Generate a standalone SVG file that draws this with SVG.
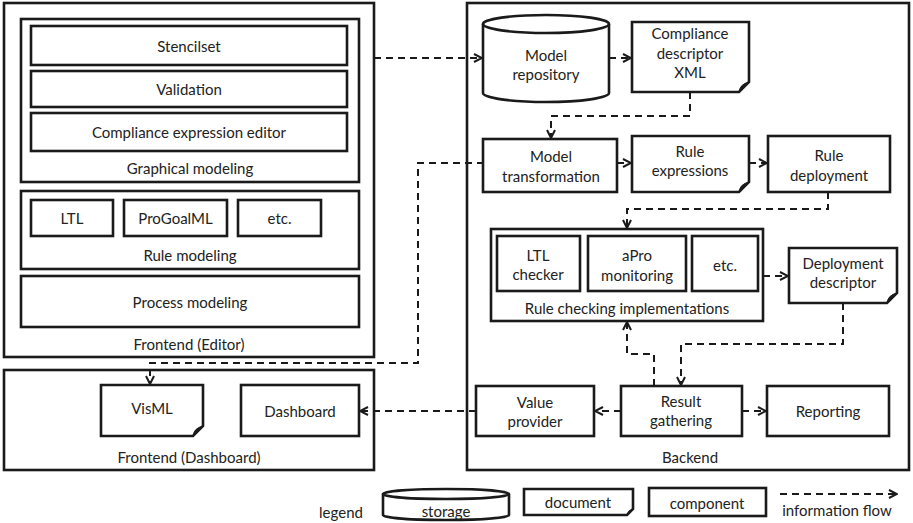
<svg xmlns="http://www.w3.org/2000/svg" width="913" height="523" viewBox="0 0 913 523">
<style>
.box{fill:#fff;stroke:#1a1a1a;stroke-width:2.6}
.frame{fill:none;stroke:#1a1a1a;stroke-width:2.6}
.t{font-family:Lato,"Open Sans","Liberation Sans",sans-serif;font-size:15px;fill:#222;text-anchor:middle;dominant-baseline:central}
.flow{fill:none;stroke:#1a1a1a;stroke-width:2;stroke-dasharray:7 5;marker-end:url(#arr)}
.curl{fill:#1a1a1a;stroke:#1a1a1a;stroke-width:1}
</style>
<defs>
<marker id="arr" viewBox="0 0 10 10" refX="9" refY="5" markerWidth="10" markerHeight="10" markerUnits="userSpaceOnUse" orient="auto">
<path d="M1,1 L9,5 L1,9" fill="none" stroke="#1a1a1a" stroke-width="2" stroke-dasharray="none"/>
</marker>
</defs>
<rect width="913" height="523" fill="#fff"/>

<g id="frontend-editor">
<rect class="frame" x="4" y="3" width="370" height="354"/>
<text class="t" x="189" y="344">Frontend (Editor)</text>
</g>
<g id="graphical-modeling">
<rect class="frame" x="21" y="19" width="338" height="163"/>
<text class="t" x="190" y="168">Graphical modeling</text>
</g>
<g id="stencilset"><rect class="box" x="31" y="26" width="316" height="39"/><text class="t" x="189" y="46">Stencilset</text></g>
<g id="validation"><rect class="box" x="31" y="71" width="316" height="36"/><text class="t" x="189" y="89">Validation</text></g>
<g id="compliance-expression-editor"><rect class="box" x="31" y="113" width="316" height="38"/><text class="t" x="189" y="132">Compliance expression editor</text></g>
<g id="rule-modeling">
<rect class="frame" x="21" y="191" width="338" height="78"/>
<text class="t" x="190" y="255">Rule modeling</text>
</g>
<g id="ltl"><rect class="box" x="31" y="200" width="82" height="36"/><text class="t" x="72" y="218">LTL</text></g>
<g id="progoalml"><rect class="box" x="124" y="200" width="103" height="36"/><text class="t" x="175.5" y="218">ProGoalML</text></g>
<g id="etc-rule"><rect class="box" x="238" y="200" width="83" height="36"/><text class="t" x="279.5" y="218">etc.</text></g>
<g id="process-modeling"><rect class="box" x="21" y="276" width="338" height="51"/><text class="t" x="190" y="302">Process modeling</text></g>

<g id="frontend-dashboard">
<rect class="frame" x="4" y="370" width="370" height="100"/>
<text class="t" x="189" y="457">Frontend (Dashboard)</text>
</g>
<g id="visml">
<path class="box" d="M101,385 H203 V426 L193,436 H101 Z"/>
<path class="curl" d="M203,426 L193,436 Q194,428 203,426 Z"/>
<text class="t" x="152" y="408">VisML</text>
</g>
<g id="dashboard"><rect class="box" x="241" y="385" width="118" height="51"/><text class="t" x="300" y="411">Dashboard</text></g>

<g id="backend">
<rect class="frame" x="467" y="3" width="442" height="467"/>
<text class="t" x="690" y="457">Backend</text>
</g>
<g id="model-repository">
<path class="box" d="M483,24 A63,9 0 0,1 609,24 V93 A63,9 0 0,1 483,93 Z"/>
<path class="frame" d="M483,24 A63,9 0 0,0 609,24"/>
<text class="t" x="546" y="55">Model</text>
<text class="t" x="546" y="74">repository</text>
</g>
<g id="compliance-descriptor-xml">
<path class="box" d="M632,22 H749 V82 L739,92 H632 Z"/>
<path class="curl" d="M749,82 L739,92 Q740,84 749,82 Z"/>
<text class="t" x="690" y="33">Compliance</text>
<text class="t" x="690" y="53">descriptor</text>
<text class="t" x="690" y="72">XML</text>
</g>
<g id="model-transformation"><rect class="box" x="483" y="139" width="134" height="53"/><text class="t" x="551" y="156">Model</text><text class="t" x="551" y="176">transformation</text></g>
<g id="rule-expressions">
<path class="box" d="M632,136 H749 V182 L739,192 H632 Z"/>
<path class="curl" d="M749,182 L739,192 Q740,184 749,182 Z"/>
<text class="t" x="690" y="151">Rule</text>
<text class="t" x="690" y="170">expressions</text>
</g>
<g id="rule-deployment"><rect class="box" x="768" y="136" width="122" height="56"/><text class="t" x="829" y="155">Rule</text><text class="t" x="829" y="175">deployment</text></g>
<g id="rule-checking-implementations">
<rect class="frame" x="491" y="229" width="272" height="92"/>
<text class="t" x="627" y="308">Rule checking implementations</text>
</g>
<g id="ltl-checker"><rect class="box" x="497" y="236" width="83" height="55"/><text class="t" x="538" y="255">LTL</text><text class="t" x="538" y="274">checker</text></g>
<g id="apro-monitoring"><rect class="box" x="588" y="236" width="98" height="55"/><text class="t" x="637" y="255">aPro</text><text class="t" x="637" y="275">monitoring</text></g>
<g id="etc-check"><rect class="box" x="692" y="236" width="66" height="55"/><text class="t" x="725" y="265">etc.</text></g>
<g id="deployment-descriptor">
<path class="box" d="M789,248 H897 V293 L887,303 H789 Z"/>
<path class="curl" d="M897,293 L887,303 Q888,295 897,293 Z"/>
<text class="t" x="843" y="263">Deployment</text>
<text class="t" x="843" y="282">descriptor</text>
</g>
<g id="value-provider"><rect class="box" x="476" y="386" width="118" height="50"/><text class="t" x="535" y="402">Value</text><text class="t" x="535" y="421">provider</text></g>
<g id="result-gathering"><rect class="box" x="621" y="386" width="121" height="50"/><text class="t" x="681" y="401">Result</text><text class="t" x="681" y="420">gathering</text></g>
<g id="reporting"><rect class="box" x="767" y="386" width="122" height="50"/><text class="t" x="828" y="411">Reporting</text></g>

<g id="connectors">
<path class="flow" d="M374,58 H482"/>
<path class="flow" d="M609,58 H631"/>
<path class="flow" d="M690,92 V116 H551 V138"/>
<path class="flow" d="M617,163 H631"/>
<path class="flow" d="M749,163 H767"/>
<path class="flow" d="M828,192 V209 H627 V228"/>
<path class="flow" d="M763,276 H788"/>
<path class="flow" d="M843,303 V344 H681 V385"/>
<path class="flow" d="M654,386 V354 H627 V322"/>
<path class="flow" d="M621,411 H595"/>
<path class="flow" d="M742,411 H766"/>
<path class="flow" d="M476,411 H360"/>
<path class="flow" d="M484,163 H418 V363 H150 V384"/>
</g>

<g id="legend">
<text class="t" x="341" y="512">legend</text>
<g id="legend-storage">
<path class="box" d="M383,494 A63,5 0 0,1 509,494 V515 A63,5 0 0,1 383,515 Z"/>
<path class="frame" d="M383,494 A63,5 0 0,0 509,494"/>
<text class="t" x="446" y="511">storage</text>
</g>
<g id="legend-document">
<path class="box" d="M524,489 H633 V509 L627,515 H524 Z"/>
<path class="curl" d="M633,509 L627,515 Q628,510 633,509 Z"/>
<text class="t" x="578" y="502">document</text>
</g>
<g id="legend-component"><rect class="box" x="649" y="488" width="117" height="28"/><text class="t" x="707" y="503">component</text></g>
<g id="legend-flow">
<path class="flow" d="M780,494 H897"/>
<text class="t" x="837" y="510">information flow</text>
</g>
</g>
</svg>
